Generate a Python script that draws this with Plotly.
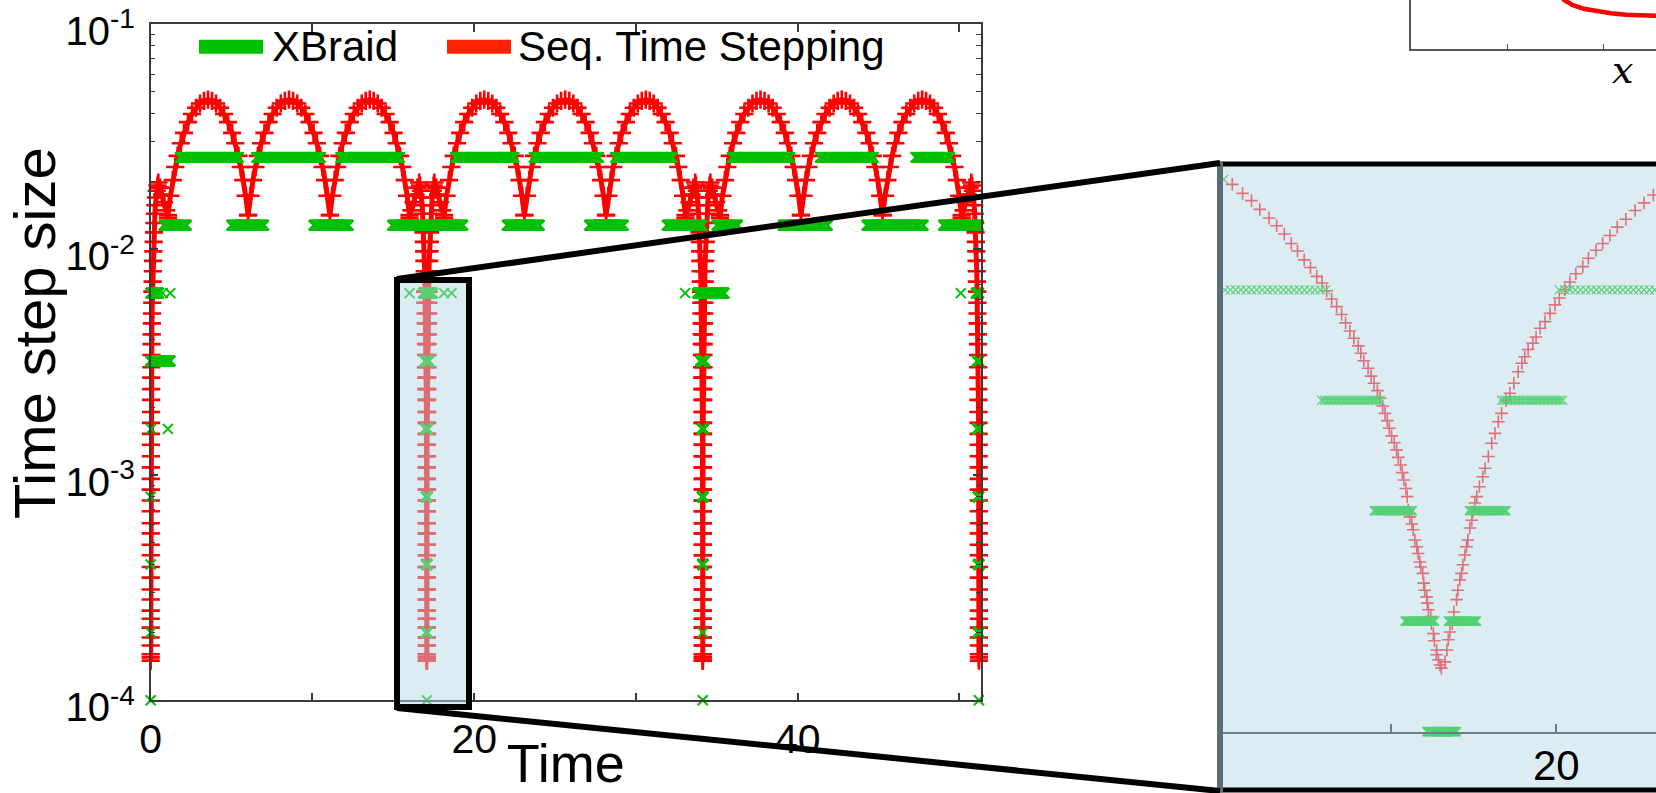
import numpy as np
import plotly.graph_objects as go

FONT = "Liberation Sans"
W, H = 1656, 793

# ---------------- Seq. Time Stepping (red) ----------------
dip_times = [0.0, 17.07, 34.13, 51.2]
# neighbourhood of each dip (approach side), tau relative to the dip
dip_tau = [-1.07, -0.95, -0.82, -0.70, -0.58, -0.47, -0.42, -0.37, -0.33, -0.29,
           -0.26, -0.23, -0.205, -0.185, -0.165, -0.148, -0.133, -0.119, -0.106, -0.094,
           -0.083, -0.073, -0.064, -0.056, -0.049, -0.043, -0.037, -0.032, -0.028, -0.024,
           -0.021, -0.018, -0.0155, -0.0133, -0.0113, -0.0096, -0.0081, -0.0068, -0.0057, -0.0047,
           -0.0039, -0.0032, -0.0026, -0.0021, -0.0017, -0.0013, -0.0010, -0.0008, -0.0006, -0.00045,
           -0.0003, -0.0002, -0.0001, -0.00005, 0.0]
dip_dt = [0.0138, 0.0149, 0.0162, 0.0175, 0.0188, 0.0198, 0.0192, 0.0182, 0.0170, 0.0157,
          0.0144, 0.0131, 0.0119, 0.0108, 0.0098, 0.0089, 0.0080, 0.0072, 0.0065, 0.0058,
          0.0052, 0.0047, 0.0042, 0.0038, 0.0034, 0.0030, 0.0027, 0.0024, 0.00215, 0.0019,
          0.0017, 0.00152, 0.00136, 0.00121, 0.00108, 0.00096, 0.00086, 0.00077, 0.00069, 0.00061,
          0.00055, 0.00049, 0.00044, 0.00039, 0.00035, 0.00031, 0.00028, 0.00025, 0.00023, 0.00021,
          0.00019, 0.000175, 0.00016, 0.000155, 0.00015]
# shape of one hump between two troughs (fraction of hump width, step size)
arc_frac = [0.0, 0.03, 0.06, 0.09, 0.12, 0.16, 0.20, 0.25, 0.30, 0.35, 0.40, 0.45, 0.50,
            0.55, 0.60, 0.65, 0.70, 0.75, 0.80, 0.84, 0.88, 0.91, 0.94, 0.97, 1.0]
arc_dt = [0.0142, 0.0173, 0.0203, 0.0232, 0.0260, 0.0296, 0.0329, 0.0367, 0.0399, 0.0425, 0.0444, 0.0456, 0.0462,
          0.0456, 0.0444, 0.0425, 0.0399, 0.0367, 0.0329, 0.0296, 0.0260, 0.0232, 0.0203, 0.0173, 0.0142]
arc_start = [1.07, 6.02, 11.08, 18.14, 23.10, 28.15, 35.20, 40.20, 45.25]
arc_end = [6.02, 11.08, 16.00, 23.10, 28.15, 33.06, 40.20, 45.25, 50.13]

# ---------------- XBraid (green) ----------------
xb_lev = [0.0256] * 9 + [0.0128] * 12 + [
    0.0064, 0.0064, 0.0064, 0.0032, 0.0016, 0.0016, 0.0008, 0.0004, 0.0002, 0.0001,
    0.0064, 0.0064, 0.0064, 0.0064, 0.0032, 0.0016, 0.0008, 0.0004, 0.0002, 0.0001,
    0.0064, 0.0064, 0.0032, 0.0016, 0.0008, 0.0004, 0.0002, 0.0001,
    0.0064, 0.0064, 0.0032, 0.0016, 0.0008, 0.0004, 0.0002, 0.0001]
xb_t0 = [1.81, 6.54, 11.74, 18.84, 23.69, 28.72, 35.94, 41.38, 47.29,
         0.81, 5.00, 10.08, 14.94, 17.18, 22.03, 27.12, 31.92, 34.99, 39.09, 44.27, 49.00,
         0.00, 0.74, 1.21, 0.00, 0.03, 1.06, 0.00, 0.00, 0.00, 0.00,
         16.00, 16.85, 18.13, 18.60, 16.97, 17.00, 17.03, 17.05, 17.06, 17.07,
         33.04, 33.80, 34.00, 34.08, 34.10, 34.12, 34.13, 34.13,
         50.08, 51.03, 51.10, 51.12, 51.15, 51.17, 51.18, 51.20]
xb_t1 = [5.47, 10.51, 15.41, 22.50, 27.71, 32.27, 39.54, 44.69, 49.43,
         2.23, 7.00, 12.22, 17.07, 19.31, 24.04, 29.24, 34.12, 36.30, 41.85, 47.77, 51.20,
         0.50, 0.74, 1.21, 1.20, 0.03, 1.06, 0.00, 0.00, 0.00, 0.00,
         16.00, 17.42, 18.13, 18.60, 17.20, 17.12, 17.10, 17.08, 17.07, 17.07,
         33.04, 35.46, 34.25, 34.18, 34.16, 34.14, 34.13, 34.13,
         50.08, 51.20, 51.20, 51.20, 51.20, 51.20, 51.20, 51.20]

# ---------------- zoomed inset ----------------
inset_red_t = [19.9022, 19.9053, 19.9080, 19.9105, 19.9133, 19.9156, 19.9179, 19.9200, 19.9219, 19.9239,
               19.9258, 19.9277, 19.9293, 19.9307, 19.9322, 19.9337, 19.9352, 19.9364, 19.9377, 19.9389,
               19.9402, 19.9410, 19.9419, 19.9432, 19.9441, 19.9450, 19.9460, 19.9468, 19.9476, 19.9483,
               19.9490, 19.9496, 19.9503, 19.9511, 19.9518, 19.9523, 19.9530, 19.9535, 19.9540, 19.9546,
               19.9550, 19.9553, 19.9558, 19.9564, 19.9568, 19.9573, 19.9579, 19.9583, 19.9588, 19.9591,
               19.9597, 19.9600, 19.9603, 19.9609, 19.9611, 19.9614, 19.9621, 19.9623, 19.9629, 19.9632,
               19.9638, 19.9639, 19.9644, 19.9649, 19.9653,
               19.9664, 19.9670, 19.9674, 19.9679, 19.9686, 19.9691, 19.9699, 19.9703, 19.9709, 19.9714,
               19.9718, 19.9724, 19.9729, 19.9733, 19.9739, 19.9745, 19.9748, 19.9754, 19.9760, 19.9768,
               19.9778, 19.9785, 19.9795, 19.9805, 19.9815, 19.9825, 19.9835, 19.9848, 19.9860, 19.9872,
               19.9885, 19.9896, 19.9905, 19.9915, 19.9929, 19.9939, 19.9951, 19.9966, 19.9981, 19.9996,
               20.0009, 20.0026, 20.0041, 20.0059, 20.0080, 20.0097, 20.0120, 20.0140, 20.0162, 20.0184,
               20.0210, 20.0238, 20.0265, 20.0293]
inset_red_dt = [3.10e-3, 2.93e-3, 2.80e-3, 2.65e-3, 2.51e-3, 2.39e-3, 2.27e-3, 2.14e-3, 2.04e-3, 1.93e-3,
                1.84e-3, 1.74e-3, 1.67e-3, 1.59e-3, 1.51e-3, 1.44e-3, 1.37e-3, 1.30e-3, 1.235e-3, 1.18e-3,
                1.125e-3, 1.074e-3, 1.025e-3, 9.78e-4, 9.31e-4, 8.90e-4, 8.50e-4, 8.10e-4, 7.72e-4, 7.37e-4,
                7.04e-4, 6.71e-4, 6.40e-4, 6.13e-4, 5.86e-4, 5.59e-4, 5.33e-4, 5.08e-4, 4.85e-4, 4.60e-4,
                4.37e-4, 4.02e-4, 3.85e-4, 3.68e-4, 3.55e-4, 3.33e-4, 3.19e-4, 3.06e-4, 2.90e-4, 2.81e-4,
                2.70e-4, 2.54e-4, 2.43e-4, 2.33e-4, 2.24e-4, 2.15e-4, 2.06e-4, 1.97e-4, 1.85e-4, 1.77e-4,
                1.62e-4, 1.67e-4, 1.57e-4, 1.52e-4, 1.49e-4,
                1.55e-4, 1.67e-4, 1.78e-4, 1.87e-4, 1.97e-4, 2.12e-4, 2.29e-4, 2.43e-4, 2.59e-4, 2.70e-4,
                2.85e-4, 3.03e-4, 3.19e-4, 3.33e-4, 3.59e-4, 3.77e-4, 3.97e-4, 4.20e-4, 4.37e-4, 4.65e-4,
                4.95e-4, 5.22e-4, 5.62e-4, 6.11e-4, 6.50e-4, 6.99e-4, 7.37e-4, 7.98e-4, 8.36e-4, 8.90e-4,
                9.57e-4, 1.009e-3, 1.051e-3, 1.10e-3, 1.144e-3, 1.19e-3, 1.257e-3, 1.31e-3, 1.38e-3, 1.455e-3,
                1.52e-3, 1.60e-3, 1.68e-3, 1.77e-3, 1.85e-3, 1.95e-3, 2.05e-3, 2.14e-3, 2.25e-3, 2.37e-3,
                2.49e-3, 2.63e-3, 2.76e-3, 2.90e-3]
inset_xb_lev = [0.0032, 0.0016, 0.0016, 0.0008, 0.0008, 0.0004, 0.0004, 0.0002, 0.0002, 0.0001]
inset_xb_t0 = [19.8996, 19.9000, 20.0009, 19.9292, 19.9835, 19.9450, 19.9737, 19.9543, 19.9674, 19.9609]
inset_xb_t1 = [19.9006, 19.9308, 20.0350, 19.9468, 20.0021, 19.9568, 19.9850, 19.9634, 19.9760, 19.9699]

# fragment of a neighbouring panel (top right corner)
frag_x = [0.79, 0.84, 0.90, 0.97, 1.04, 1.12, 1.20, 1.30]
frag_y = [1.02, 0.90, 0.82, 0.77, 0.73, 0.70, 0.685, 0.675]

y_tickvals = [1e-4, 1e-3, 1e-2, 1e-1]
y_ticktext = ["10<sup>-4</sup>", "10<sup>-3</sup>", "10<sup>-2</sup>", "10<sup>-1</sup>"]
x_tickvals = [0, 10, 20, 30, 40, 50]
x_ticktext = ["0", "", "20", "", "40", ""]

assert len(dip_tau) == len(dip_dt)
assert len(arc_frac) == len(arc_dt)
assert len(xb_lev) == len(xb_t0) == len(xb_t1)
assert len(inset_red_t) == len(inset_red_dt)

# ---------------- build point lists ----------------
red_t, red_dt = [], []
for k, D in enumerate(dip_times):
    if k > 0:
        red_t += [D + tau for tau in dip_tau]
        red_dt += list(dip_dt)
    if k < len(dip_times) - 1:
        red_t += [D - tau for tau in dip_tau[::-1]]
        red_dt += list(dip_dt[::-1])
        for a, b in zip(arc_start[3 * k:3 * k + 3], arc_end[3 * k:3 * k + 3]):
            red_t += [a + f * (b - a) for f in arc_frac]
            red_dt += list(arc_dt)


def expand(levs, t0s, t1s):
    tt, yy = [], []
    for lev, a, b in zip(levs, t0s, t1s):
        pts = np.arange(a, b + 1e-9, lev)
        tt += list(pts)
        yy += [lev] * len(pts)
    return tt, yy


xb_t, xb_dt = expand(xb_lev, xb_t0, xb_t1)
ixb_t, ixb_dt = expand(inset_xb_lev, inset_xb_t0, inset_xb_t1)

RED = "#ff0000"
GREEN = "#00c000"

fig = go.Figure()
fig.add_trace(go.Scatter(
    x=red_t, y=red_dt, mode="lines+markers", name="Seq. Time Stepping", showlegend=False,
    line=dict(color=RED, width=5),
    marker=dict(symbol="cross-thin", size=13, line=dict(width=2.6, color=RED)),
    cliponaxis=False, xaxis="x", yaxis="y"))
fig.add_trace(go.Scatter(
    x=xb_t, y=xb_dt, mode="markers", name="XBraid", showlegend=False,
    marker=dict(symbol="x-thin", size=10, line=dict(width=2, color=GREEN)),
    cliponaxis=False, xaxis="x", yaxis="y"))

# inset traces (faded colours, as seen through the highlight)
fig.add_trace(go.Scatter(
    x=inset_red_t, y=inset_red_dt, mode="markers", showlegend=False,
    marker=dict(symbol="cross-thin", size=9, line=dict(width=1.6, color="#e0707a")),
    cliponaxis=False, xaxis="x2", yaxis="y2"))
fig.add_trace(go.Scatter(
    x=ixb_t, y=ixb_dt, mode="markers", showlegend=False,
    marker=dict(symbol="x-thin", size=9, line=dict(width=1.1, color="#55d075")),
    cliponaxis=False, xaxis="x2", yaxis="y2"))

fig.add_trace(go.Scatter(
    x=frag_x, y=frag_y, mode="lines", showlegend=False,
    line=dict(color=RED, width=4.5), cliponaxis=False, xaxis="x3", yaxis="y3"))

AX = "#3a3a3a"
minor_vals = [m * 10 ** e for e in (-4, -3, -2) for m in range(2, 10)]

fig.update_layout(
    width=W, height=H,
    margin=dict(l=0, r=0, t=0, b=0, autoexpand=False),
    paper_bgcolor="white", plot_bgcolor="rgba(0,0,0,0)",
    font=dict(family=FONT, color="black"),
    xaxis=dict(domain=[150.7 / W, 981 / W], range=[0, 51.33], anchor="y", automargin=False,
               tickmode="array", tickvals=x_tickvals, ticktext=x_ticktext,
               ticks="inside", ticklen=8, tickwidth=1.5, tickcolor=AX,
               showline=True, linecolor=AX, linewidth=1.5, mirror="ticks",
               showgrid=False, zeroline=False, tickfont=dict(size=41),
               ticklabelstandoff=2,
               title=dict(text="Time", font=dict(size=54), standoff=14)),
    yaxis=dict(domain=[(H - 700.3) / H, (H - 24) / H], type="log", range=[-4, -1], anchor="x",
               automargin=False, ticklabeloverflow="allow",
               tickmode="array", tickvals=y_tickvals, ticktext=y_ticktext,
               ticks="inside", ticklen=8, tickwidth=1.5, tickcolor=AX,
               minor=dict(tickmode="array", tickvals=minor_vals, ticks="inside", ticklen=5,
                          tickwidth=1.2, tickcolor=AX, showgrid=False),
               showline=True, linecolor=AX, linewidth=1.5, mirror="ticks",
               showgrid=False, zeroline=False, tickfont=dict(size=40),
               ticklabelstandoff=6, ticklabelshift=7),
    xaxis2=dict(domain=[1223 / W, 1.0], range=[19.8994, 20.0301], anchor="y2", automargin=False,
                tickmode="array", tickvals=[19.95, 20.0], ticktext=["", "20"],
                ticks="inside", ticklen=8, tickwidth=1.5, tickcolor="#6b7f87",
                showline=True, linecolor="#6b7f87", linewidth=1.5,
                showgrid=False, zeroline=False, tickfont=dict(size=42), ticklabelstandoff=-4),
    yaxis2=dict(domain=[(H - 731.7) / H, (H - 166) / H], type="log", range=[-4, -2.4586], anchor="x2",
                automargin=False,
                showline=False, showticklabels=False, ticks="", showgrid=False, zeroline=False),
    xaxis3=dict(domain=[1411 / W, 1.0], range=[0, 1.276], anchor="y3", automargin=False,
                tickmode="array", tickvals=[0.5, 1.0], ticktext=["", ""],
                ticks="inside", ticklen=5, tickwidth=1.2, tickcolor="#555",
                showline=True, linecolor="#555", linewidth=1.5, showgrid=False, zeroline=False),
    yaxis3=dict(domain=[(H - 49) / H, 1.0], range=[0, 1], anchor="x3", automargin=False,
                showline=True, linecolor="#555", linewidth=1.5, showticklabels=False,
                ticks="", showgrid=False, zeroline=False),
)


def px(x):
    return x / W


def py(y):
    return (H - y) / H


shapes = [
    # inset background and frame
    dict(type="rect", xref="paper", yref="paper", x0=px(1222), x1=px(1660), y0=py(788), y1=py(166),
         fillcolor="#dbecf2", line=dict(width=0), layer="below"),
    dict(type="line", xref="paper", yref="paper", x0=px(1217), x1=px(1660), y0=py(164), y1=py(164),
         line=dict(color="black", width=5), layer="above"),
    dict(type="line", xref="paper", yref="paper", x0=px(1217), x1=px(1660), y0=py(790), y1=py(790),
         line=dict(color="black", width=5), layer="above"),
    dict(type="line", xref="paper", yref="paper", x0=px(1220), x1=px(1220), y0=py(162), y1=py(792),
         line=dict(color="#5b6e75", width=6), layer="above"),
    # highlight box in the main panel
    dict(type="rect", xref="paper", yref="paper", x0=px(397), x1=px(469), y0=py(707), y1=py(280),
         fillcolor="rgba(183,217,229,0.5)", line=dict(color="black", width=6), layer="above"),
    # connectors
    dict(type="line", xref="paper", yref="paper", x0=px(397), x1=px(1220), y0=py(279), y1=py(163),
         line=dict(color="black", width=6), layer="above"),
    dict(type="line", xref="paper", yref="paper", x0=px(397), x1=px(1220), y0=py(708), y1=py(791),
         line=dict(color="black", width=6), layer="above"),
    # legend samples
    dict(type="line", xref="paper", yref="paper", x0=px(199), x1=px(263), y0=py(46.7), y1=py(46.7),
         line=dict(color="#00c000", width=14), layer="above"),
    dict(type="line", xref="paper", yref="paper", x0=px(447), x1=px(511), y0=py(46.7), y1=py(46.7),
         line=dict(color="#ff2200", width=14), layer="above"),
]
fig.update_layout(shapes=shapes)

annotations = [
    dict(text="Time step size", xref="paper", yref="paper", x=px(35), y=py(333), textangle=-90,
         xanchor="center", yanchor="middle", showarrow=False,
         font=dict(size=58, family=FONT, color="black")),
    dict(text="XBraid", xref="paper", yref="paper", x=px(270), y=py(46.7), xanchor="left", yanchor="middle",
         showarrow=False, font=dict(size=42, family=FONT, color="black")),
    dict(text="Seq. Time Stepping", xref="paper", yref="paper", x=px(516), y=py(46.7), xanchor="left",
         yanchor="middle", showarrow=False, font=dict(size=42, family=FONT, color="black")),
    dict(text="<i>x</i>", xref="paper", yref="paper", x=px(1610), y=py(70), xanchor="left", yanchor="middle",
         showarrow=False, font=dict(size=38, family="DejaVu Serif", color="black")),
]
fig.update_layout(annotations=annotations)

fig.write_html("out.html", config={"displayModeBar": False},
               post_script="document.body.style.margin='0px';")
